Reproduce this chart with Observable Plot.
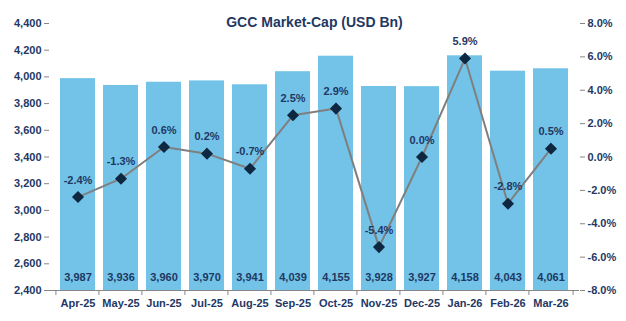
<!DOCTYPE html>
<html>
<head>
<meta charset="utf-8">
<script src="https://cdn.jsdelivr.net/npm/d3@7"></script>
<script src="https://cdn.jsdelivr.net/npm/@observablehq/plot@0.6"></script>
<style>
  body { margin: 0; background: #fff; }
  #chart svg { font-family: "Liberation Sans", Arial, sans-serif; }
</style>
</head>
<body>
<div id="chart"></div>
<script>
const months = ["Apr-25","May-25","Jun-25","Jul-25","Aug-25","Sep-25","Oct-25","Nov-25","Dec-25","Jan-26","Feb-26","Mar-26"];
const marketCap = [3987, 3936, 3960, 3970, 3941, 4039, 4155, 3928, 3927, 4158, 4043, 4061];
const changePct = [-2.4, -1.3, 0.6, 0.2, -0.7, 2.5, 2.9, -5.4, 0.0, 5.9, -2.8, 0.5];
const leftTicks = [2400, 2600, 2800, 3000, 3200, 3400, 3600, 3800, 4000, 4200, 4400];
const rightTicks = [-8, -6, -4, -2, 0, 2, 4, 6, 8];
const title = "GCC Market-Cap (USD Bn)";

const W = 626, H = 321;
const mL = 49, mR = 47, mT = 23, mB = 31;
const yMin = 2400, yMax = 4400, pMin = -8, pMax = 8;
const toY = p => yMin + (p - pMin) / (pMax - pMin) * (yMax - yMin);
const fromY = y => (y - yMin) / (yMax - yMin) * (pMax - pMin) + pMin;
const navy = "#1F3864";
const axisGray = "#868686";

const data = months.map((m, i) => ({month: m, cap: marketCap[i], pct: changePct[i], py: toY(changePct[i])}));
const halfStep = (W - mL - mR) / months.length / 2;
const plotH = H - mT - mB;

const chart = Plot.plot({
  width: W, height: H,
  marginLeft: mL, marginRight: mR, marginTop: mT, marginBottom: mB,
  style: {fontFamily: "'Liberation Sans', Arial, sans-serif", color: navy, background: "#fff"},
  x: {domain: months, padding: 0.18, label: null},
  y: {type: "linear", domain: [yMin, yMax], label: null},
  marks: [
    Plot.barY(data, {x: "month", y1: yMin, y2: "cap", fill: "#72C3E7"}),
    // axis lines
    Plot.ruleX([0], {frameAnchor: "left", stroke: axisGray}),
    Plot.ruleX([0], {frameAnchor: "right", stroke: axisGray}),
    Plot.ruleY([yMin], {stroke: axisGray}),
    // category separators below the x axis
    Plot.ruleX(months, {x: d => d, dx: -halfStep, insetTop: plotH, insetBottom: -5, stroke: axisGray}),
    Plot.ruleX([months[months.length - 1]], {x: d => d, dx: halfStep, insetTop: plotH, insetBottom: -5, stroke: axisGray}),
    Plot.axisY(leftTicks, {anchor: "left", tickSize: 5, tickPadding: 3, stroke: axisGray, tickFormat: d3.format(","), fontSize: 11, fontWeight: "bold", fill: navy, label: null}),
    Plot.axisY(rightTicks.map(toY), {anchor: "right", tickSize: 5, tickPadding: 3, stroke: axisGray, tickFormat: d => fromY(d).toFixed(1) + "%", fontSize: 11, fontWeight: "bold", fill: navy, label: null}),
    Plot.axisX({tickSize: 0, tickPadding: 9, fontSize: 11, fontWeight: "bold", fill: navy, label: null}),
    // bar value labels
    Plot.text(data, {x: "month", y: () => yMin, dy: -13, text: d => d3.format(",")(d.cap), fontSize: 11, fontWeight: "bold", fill: navy}),
    // pct line
    Plot.line(data, {x: "month", y: "py", stroke: "#7F7F7F", strokeWidth: 2}),
    Plot.dot(data, {x: "month", y: "py", symbol: "diamond2", r: 4.5, fill: "#0F2841", stroke: "#0F2841"}),
    Plot.text(data, {x: "month", y: "py", dy: -17, text: d => d.pct.toFixed(1) + "%", fontSize: 11, fontWeight: "bold", fill: navy}),
    // title
    Plot.text([title], {frameAnchor: "top", dy: -6, text: d => d, fontSize: 14, fontWeight: "bold", fill: navy})
  ]
});
document.getElementById("chart").appendChild(chart);
</script>
</body>
</html>
